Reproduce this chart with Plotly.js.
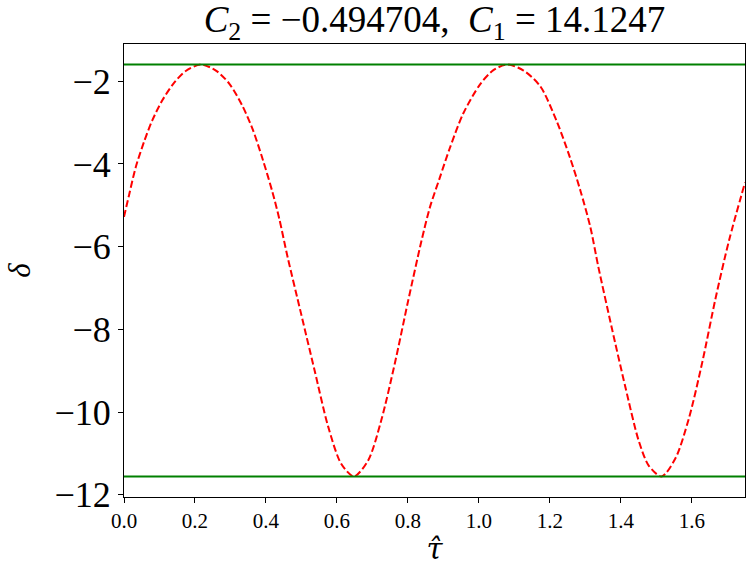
<!DOCTYPE html>
<html>
<head>
<meta charset="utf-8">
<script src="https://cdn.plot.ly/plotly-3.0.1.min.js"></script>
<style>html,body{margin:0;padding:0;background:#fff;}#chart{width:754px;height:576px;}</style>
</head>
<body>
<div id="chart"></div>
<script>
// delta(tau)
const tauValues = [0, 0.014, 0.033, 0.057, 0.080, 0.108, 0.141, 0.174, 0.217, 0.259, 0.297, 0.334, 0.363, 0.391, 0.419, 0.438, 0.461, 0.499, 0.537, 0.575, 0.612, 0.648, 0.688, 0.725, 0.763, 0.801, 0.838, 0.862, 0.890, 0.918, 0.956, 1.003, 1.041, 1.080, 1.126, 1.173, 1.220, 1.257, 1.286, 1.314, 1.337, 1.375, 1.413, 1.450, 1.479, 1.515, 1.554, 1.592, 1.630, 1.667, 1.705, 1.750];
const deltaValues = [-5.28, -4.76, -4.08, -3.45, -2.94, -2.46, -2.04, -1.75, -1.596, -1.74, -2.06, -2.60, -3.17, -3.89, -4.70, -5.34, -6.25, -7.62, -8.99, -10.34, -11.25, -11.557, -11.17, -10.20, -8.83, -7.30, -5.87, -5.05, -4.33, -3.62, -2.78, -2.08, -1.73, -1.596, -1.74, -2.12, -2.98, -3.85, -4.64, -5.52, -6.50, -7.98, -9.40, -10.68, -11.30, -11.557, -11.12, -10.15, -8.78, -7.25, -5.85, -4.45];
// horizontal bounds
const boundX = [0, 1.75];
const upperBound = -1.596;
const lowerBound = -11.557;
const yTickVals = [-2, -4, -6, -8, -10, -12];
const yTickText = ["\u22122", "\u22124", "\u22126", "\u22128", "\u221210", "\u221212"];
const xTickVals = [0, 0.2, 0.4, 0.6, 0.8, 1.0, 1.2, 1.4, 1.6];
const titleText = "<i>C</i><sub>2</sub>\u00a0=\u00a0\u22120.494704,\u00a0\u00a0<i>C</i><sub>1</sub>\u00a0=\u00a014.1247";

const serif = "'Liberation Serif', 'DejaVu Serif', serif";

const traces = [
  {x: tauValues, y: deltaValues, mode: "lines", type: "scatter",
   line: {color: "red", width: 2, dash: "7px,3px", shape: "spline", smoothing: 0.8}},
  {x: boundX, y: [upperBound, upperBound], mode: "lines", type: "scatter",
   line: {color: "green", width: 2}},
  {x: boundX, y: [lowerBound, lowerBound], mode: "lines", type: "scatter",
   line: {color: "green", width: 2}}
];

const layout = {
  width: 754, height: 576,
  margin: {l: 124, r: 9, t: 44, b: 79},
  paper_bgcolor: "#fff", plot_bgcolor: "#fff",
  showlegend: false,
  font: {family: serif, color: "#000"},
  title: {text: titleText, font: {family: serif, size: 37, color: "#000"},
          x: 0.5, xref: "paper", xanchor: "center", y: 0.967, yref: "container", yanchor: "middle"},
  xaxis: {range: [0, 1.75], tickvals: xTickVals, tickformat: ".1f",
          ticks: "outside", ticklen: 5, tickwidth: 1, tickcolor: "#000",
          showline: true, linecolor: "#000", linewidth: 1, mirror: true,
          showgrid: false, zeroline: false,
          tickfont: {family: serif, size: 21, color: "#000"},
          title: {text: "<i>\u03C4\u0302</i>", font: {family: "'DejaVu Serif', serif", size: 29, color: "#000"}, standoff: 6}},
  yaxis: {range: [-12.055, -1.098], tickvals: yTickVals, ticktext: yTickText,
          ticks: "outside", ticklen: 5, tickwidth: 1, tickcolor: "#000",
          showline: true, linecolor: "#000", linewidth: 1, mirror: true,
          showgrid: false, zeroline: false,
          tickfont: {family: serif, size: 36, color: "#000"},
          title: {text: "<i>\u03B4</i>", font: {family: serif, size: 31, color: "#000"}, standoff: 14}}
};

Plotly.newPlot("chart", traces, layout, {displayModeBar: false, staticPlot: true});
</script>
</body>
</html>
